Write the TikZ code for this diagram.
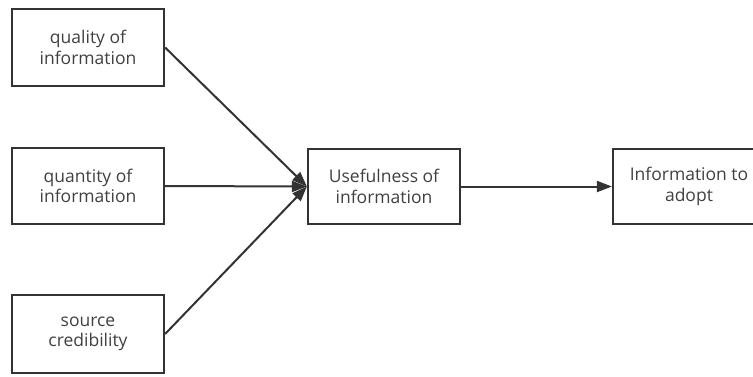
\documentclass[tikz,border=0pt]{standalone}
\usepackage{fontspec}
\setmainfont{Open Sans}
\usetikzlibrary{arrows.meta}
\definecolor{boxgray}{HTML}{333333}
\definecolor{txtgray}{HTML}{404040}
\begin{document}
\begin{tikzpicture}[x=1pt, y=-1pt, font=\fontsize{17.5}{20.5}\selectfont]
\useasboundingbox (0,0) rectangle (753,376);
\clip (0,0) rectangle (753,376);
\node[draw=boxgray, line width=2.2pt, minimum width=152pt, minimum height=77pt, align=center, text=txtgray] (qual) at (88,47.5){quality of\\information};
\node[draw=boxgray, line width=2.2pt, minimum width=152pt, minimum height=76pt, align=center, text=txtgray] (quan) at (88,186){quantity of\\information};
\node[draw=boxgray, line width=2.2pt, minimum width=152pt, minimum height=78pt, align=center, text=txtgray] (src) at (88,334){source\\credibility};
\node[draw=boxgray, line width=2.2pt, minimum width=152pt, minimum height=75pt, align=center, text=txtgray] (use) at (384,186.5){Usefulness of\\information};
\node[draw=boxgray, line width=2.2pt, minimum width=152pt, minimum height=75pt, align=center, text=txtgray] (adopt) at (689,186.5){Information to\\adopt};
\draw[boxgray, line width=2pt, -{Triangle[length=15pt,width=11pt]}](qual.east) -- (use.west);
\draw[boxgray, line width=2pt, -{Triangle[length=15pt,width=11pt]}](quan.east) -- (use.west);
\draw[boxgray, line width=2pt, -{Triangle[length=15pt,width=11pt]}](src.east) -- (use.west);
\draw[boxgray, line width=2pt, -{Triangle[length=15pt,width=11pt]}](use.east) -- (adopt.west);
\end{tikzpicture}
\end{document}
